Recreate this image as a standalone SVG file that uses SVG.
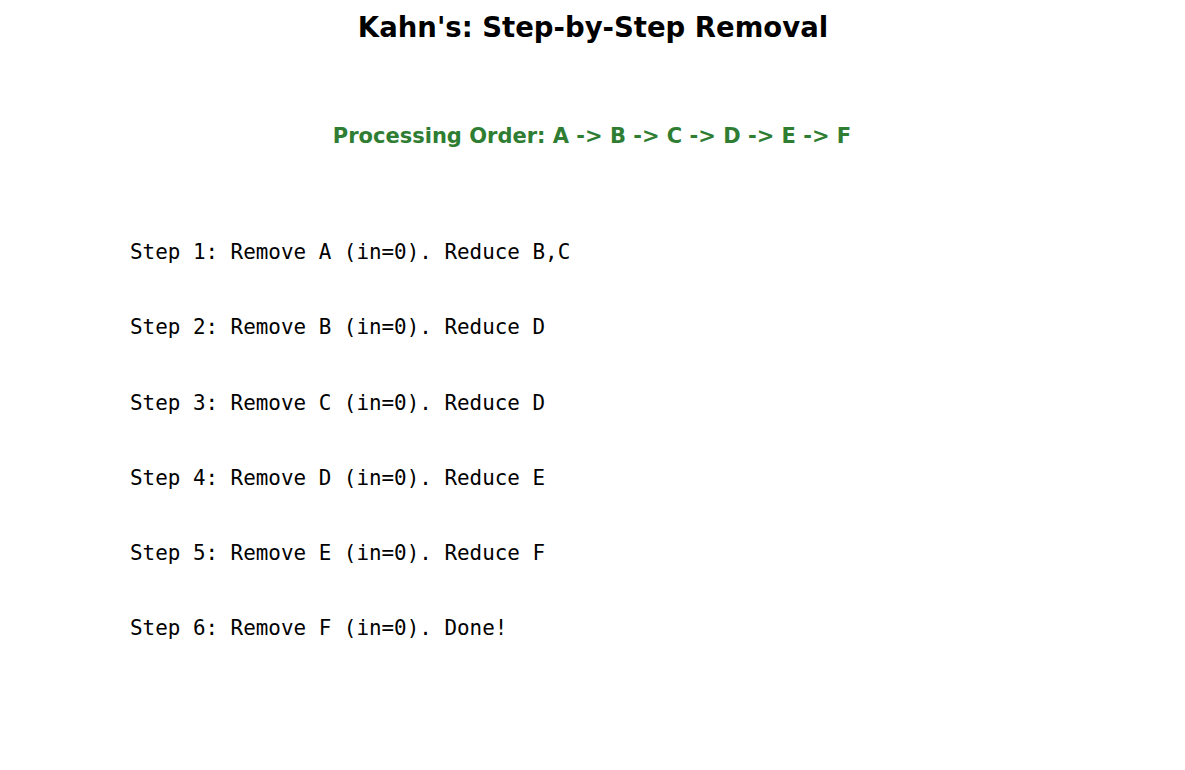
<svg xmlns="http://www.w3.org/2000/svg" width="1185" height="770" viewBox="0 0 1185 770">
<style>
.t{font-family:"DejaVu Sans",sans-serif;font-weight:bold;text-anchor:middle}
.s{font-family:"DejaVu Sans Mono",monospace;font-size:20.9px;fill:#000}
</style>
<rect width="1185" height="770" fill="#fff"/>
<text class="t" x="593" y="37" font-size="27.5">Kahn's: Step-by-Step Removal</text>
<text class="t" x="592" y="143" font-size="21" fill="#2e7d32">Processing Order: A -&gt; B -&gt; C -&gt; D -&gt; E -&gt; F</text>
<g id="steps">
<text class="s" x="130" y="259">Step 1: Remove A (in=0). Reduce B,C</text>
<text class="s" x="130" y="334">Step 2: Remove B (in=0). Reduce D</text>
<text class="s" x="130" y="410">Step 3: Remove C (in=0). Reduce D</text>
<text class="s" x="130" y="485">Step 4: Remove D (in=0). Reduce E</text>
<text class="s" x="130" y="560">Step 5: Remove E (in=0). Reduce F</text>
<text class="s" x="130" y="635">Step 6: Remove F (in=0). Done!</text>
</g>
</svg>
